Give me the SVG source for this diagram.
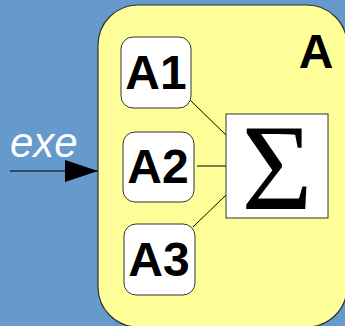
<svg xmlns="http://www.w3.org/2000/svg" width="345" height="326" viewBox="0 0 345 326">
  <style>
    .comp { fill: #ffff99; stroke: #333333; stroke-width: 1.2; }
    .sub { fill: #ffffff; stroke: #333333; stroke-width: 1; }
    .lbl { font-family: "Liberation Sans", Arial, sans-serif; font-weight: bold; font-size: 48px; fill: #000000; text-anchor: middle; }
    .wire { stroke: #000000; stroke-width: 1; fill: none; }
  </style>
  <defs>
    <marker id="head" markerWidth="34" markerHeight="22" refX="33" refY="11" orient="auto" markerUnits="userSpaceOnUse">
      <path d="M0,0 L33,11 L0,22 Z" fill="#000000"/>
    </marker>
  </defs>

  <!-- background -->
  <rect x="0" y="0" width="345" height="326" fill="#6699cc"/>

  <!-- composite block A -->
  <g id="A">
    <rect class="comp" x="98" y="5" width="249" height="322" rx="40" ry="40"/>
    <text class="lbl" x="316" y="68" font-size="51">A</text>
  </g>

  <!-- connectors -->
  <g id="connectors">
    <line class="wire" x1="10" y1="171" x2="98" y2="171" marker-end="url(#head)"/>
    <line class="wire" x1="190" y1="100" x2="226" y2="135"/>
    <line class="wire" x1="197" y1="166" x2="226" y2="166"/>
    <line class="wire" x1="193" y1="227" x2="226" y2="195"/>
  </g>

  <!-- input label -->
  <text x="10" y="157" font-family="'Liberation Sans', Arial, sans-serif" font-style="italic" font-size="42" fill="#ffffff">exe</text>

  <g id="A1">
    <rect class="sub" x="121" y="37" width="70" height="71" rx="12" ry="12"/>
    <text class="lbl" x="156" y="89">A1</text>
  </g>
  <g id="A2">
    <rect class="sub" x="123" y="132" width="71" height="70" rx="12" ry="12"/>
    <text class="lbl" x="158" y="183">A2</text>
  </g>
  <g id="A3">
    <rect class="sub" x="124" y="224" width="71" height="71" rx="12" ry="12"/>
    <text class="lbl" x="159" y="276">A3</text>
  </g>

  <g id="sum">
    <rect x="226" y="114" width="102" height="104" fill="#ffffff" stroke="#333333" stroke-width="1"/>
    <text x="277" y="209" font-family="'Liberation Serif', 'Times New Roman', serif" font-size="122" text-anchor="middle" fill="#000000">Σ</text>
  </g>
</svg>
